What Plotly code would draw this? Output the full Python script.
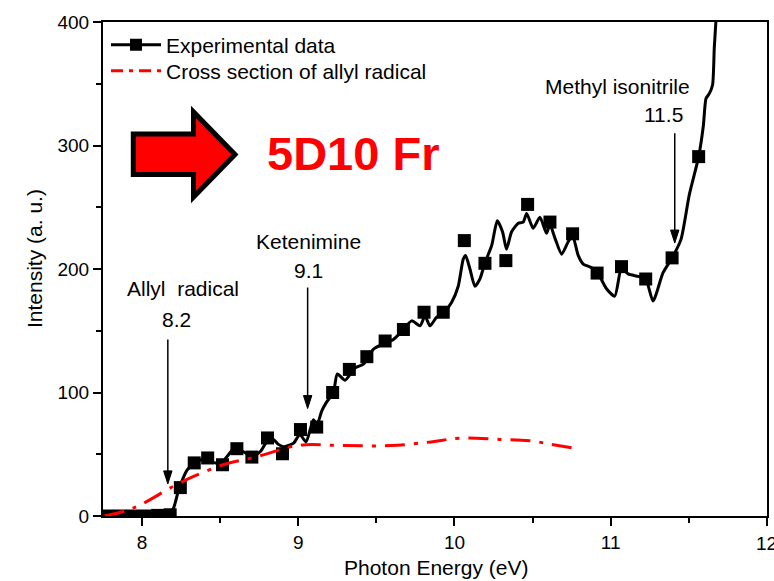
import plotly.graph_objects as go

# ---- data ----
exp_line_x = [7.75, 7.90, 8.05, 8.17, 8.20, 8.234, 8.287, 8.334, 8.394, 8.469, 8.50, 8.543, 8.586, 8.65,
              8.703, 8.756, 8.799, 8.84, 8.873, 8.905, 8.97, 9.01, 9.05, 9.097, 9.12, 9.15, 9.18, 9.225,
              9.25, 9.30, 9.364, 9.417, 9.48, 9.556, 9.609, 9.651, 9.726, 9.78, 9.811, 9.843, 9.886,
              9.928, 9.982, 10.024, 10.056, 10.071, 10.099, 10.131, 10.163, 10.195, 10.238, 10.274,
              10.308, 10.333, 10.365, 10.408, 10.44, 10.462, 10.504, 10.547, 10.589, 10.611, 10.643,
              10.686, 10.728, 10.756, 10.792, 10.824, 10.878, 10.92, 10.973, 11.026, 11.069, 11.111,
              11.175, 11.224, 11.271, 11.335, 11.393, 11.45, 11.503, 11.563, 11.593, 11.61, 11.631,
              11.652, 11.663, 11.674, 11.69]
exp_line_y = [1, 1.5, 2, 3, 6, 21, 37, 43, 46, 43, 42, 48, 54, 52,
              48, 52, 60, 62, 58, 56, 59, 66, 60, 78, 74, 85, 92, 100,
              115, 110, 120, 123, 135, 140, 143, 148, 158, 154, 162, 154, 161,
              164, 173, 186, 208, 211, 200, 186, 192, 205, 219, 239,
              230, 216, 230, 237, 238, 245, 233, 242, 229, 236, 225,
              212, 222, 227, 211, 204, 201, 196, 184, 178, 201, 196,
              194, 192, 174, 197, 209, 224, 260, 291, 316, 338, 342,
              349, 379, 402, 440]

exp_pts_x = [7.78, 7.86, 7.94, 8.02, 8.10, 8.18, 8.245, 8.334, 8.42, 8.515, 8.607, 8.703, 8.803, 8.899,
             9.014, 9.118, 9.22, 9.327, 9.439, 9.556, 9.673, 9.805, 9.928, 10.063, 10.195, 10.329,
             10.468, 10.611, 10.756, 10.913, 11.069, 11.224, 11.393, 11.563]
exp_pts_y = [0, 0, 0, 0, 0.5, 1, 23, 43, 47, 41.5, 54.5, 47.7, 63.2, 50.4,
             70, 72, 100, 118.7, 129, 141.7, 151, 165, 165, 223, 204.6, 206.8,
             252.3, 238, 228.5, 196.7, 201.9, 191.9, 209, 291]

cs_x = [7.76, 7.946, 8.2, 8.33, 8.52, 8.735, 8.95, 9.05, 9.30, 9.59, 9.85, 10.03, 10.29, 10.48, 10.62, 10.76]
cs_y = [0, 6.5, 24, 32, 41.5, 48, 56, 57.7, 57, 57, 60, 63, 62, 61, 58, 55]

x_ticks = [8, 9, 10, 11, 12]
x_minor = [8.5, 9.5, 10.5, 11.5]
y_ticks = [0, 100, 200, 300, 400]
y_minor = [50, 150, 250, 350]

# annotation arrows: label, value text, arrow x, arrow top y, arrow tip y
arrow_labels = ["Allyl  radical", "Ketenimine", "Methyl isonitrile"]
arrow_values = ["8.2", "9.1", "11.5"]
arrow_x = [8.165, 9.06, 11.41]
arrow_top = [143, 185, 310]
arrow_tip = [26, 87, 221]
label_x = [8.265, 9.065, 11.045]
label_y = [184, 222, 348]
value_x = [8.22, 9.065, 11.34]
value_y = [159, 199, 325]

# ---- geometry ----
W, H = 774, 581
L, R, T, B = 103, 7, 22, 65
PW, PH = W - L - R, H - T - B
XR = [7.75, 12.0005]
YR = [0, 400]


def px(xp):
    return (xp - L) / PW


def py(yp):
    return (H - B - yp) / PH


font = "Arial, Liberation Sans, sans-serif"

fig = go.Figure()

fig.add_trace(go.Scatter(x=exp_line_x, y=exp_line_y, mode="lines",
                         line=dict(color="black", width=3, shape="spline", smoothing=0.6),
                         showlegend=False, hoverinfo="skip"))
fig.add_trace(go.Scatter(x=exp_pts_x, y=exp_pts_y, mode="markers",
                         marker=dict(symbol="square", size=13, color="black"),
                         showlegend=False))
fig.add_trace(go.Scatter(x=cs_x, y=cs_y, mode="lines",
                         line=dict(color="red", width=3, dash="20px,9px,4px,9px", shape="spline"),
                         showlegend=False))
# legend entries
fig.add_trace(go.Scatter(x=[None], y=[None], mode="lines+markers", name="Experimental data",
                         line=dict(color="black", width=3),
                         marker=dict(symbol="square", size=12, color="black"), legend="legend"))
fig.add_trace(go.Scatter(x=[None], y=[None], mode="lines", name="Cross section of allyl radical",
                         line=dict(color="red", width=3, dash="12px,6px,4px,6px"), legend="legend2"))

shapes = []
annotations = []
dx_head = 4.2 * (XR[1] - XR[0]) / PW
dy_head = 13 * (YR[1] - YR[0]) / PH
for i in range(len(arrow_x)):
    shapes.append(dict(type="line", xref="x", yref="y", x0=arrow_x[i], x1=arrow_x[i],
                       y0=arrow_top[i], y1=arrow_tip[i] + dy_head * 0.5,
                       line=dict(color="black", width=1.5)))
    xa, yt = arrow_x[i], arrow_tip[i]
    shapes.append(dict(type="path", xref="x", yref="y",
                       path=f"M {xa - dx_head},{yt + dy_head} L {xa + dx_head},{yt + dy_head} L {xa},{yt} Z",
                       fillcolor="black", line=dict(color="black", width=1)))
    annotations.append(dict(x=label_x[i], y=label_y[i], xref="x", yref="y", text=arrow_labels[i],
                            xanchor="center", yanchor="middle",
                            showarrow=False, font=dict(family=font, size=21, color="black")))
    annotations.append(dict(x=value_x[i], y=value_y[i], xref="x", yref="y", text=arrow_values[i],
                            xanchor="center", yanchor="middle",
                            showarrow=False, font=dict(family=font, size=21, color="black")))

# big red block arrow (pixel outline -> paper coords)
arrow_px = [(133.3, 134), (193.5, 134), (193.5, 112), (235, 154.5), (193.5, 197), (193.5, 174.5), (133.3, 174.5)]
path = "M " + " L ".join(f"{px(a)},{py(b)}" for a, b in arrow_px) + " Z"
shapes.append(dict(type="path", xref="paper", yref="paper", path=path,
                   fillcolor="red", line=dict(color="black", width=5)))

annotations.append(dict(x=px(353), y=py(154), xref="paper", yref="paper", text="<b>5D10 Fr</b>",
                        xanchor="center", yanchor="middle",
                        showarrow=False, font=dict(family=font, size=47, color="red")))
# axis titles
annotations.append(dict(x=px(436), y=py(568), xref="paper", yref="paper", text="Photon Energy (eV)",
                        xanchor="center", yanchor="middle",
                        showarrow=False, font=dict(family=font, size=21, color="black")))
annotations.append(dict(x=px(34), y=py(259), xref="paper", yref="paper", text="Intensity (a. u.)",
                        xanchor="center", yanchor="middle",
                        textangle=-90, showarrow=False, font=dict(family=font, size=21, color="black")))
# last x tick label sits on the page edge (partly cut off in the reference)
annotations.append(dict(x=x_ticks[-1], y=py(543), xref="x", yref="paper", text=str(x_ticks[-1]),
                        xanchor="center", yanchor="middle",
                        showarrow=False, font=dict(family=font, size=19, color="black")))

axis_common = dict(showgrid=False, zeroline=False, showline=True, linecolor="black", linewidth=2,
                   mirror=True, ticks="outside", ticklen=8, tickwidth=1.5, tickcolor="black",
                   automargin=False,
                   tickfont=dict(family=font, size=19, color="black"))

legend_common = dict(xanchor="left", yanchor="middle", bgcolor="rgba(0,0,0,0)",
                     font=dict(family=font, size=21, color="black"), itemwidth=50)

fig.update_layout(
    width=W, height=H,
    autosize=False,
    margin=dict(l=L, r=R, t=T, b=B),
    paper_bgcolor="white", plot_bgcolor="white",
    xaxis=dict(range=XR, tickvals=x_ticks,
               ticktext=[str(v) for v in x_ticks[:-1]] + [""],
               minor=dict(tickvals=x_minor, ticks="outside", ticklen=5,
                          tickwidth=1.5, tickcolor="black"),
               **axis_common),
    yaxis=dict(range=YR, tickvals=y_ticks,
               minor=dict(tickvals=y_minor, ticks="outside", ticklen=5,
                          tickwidth=1.5, tickcolor="black"),
               **axis_common),
    legend=dict(x=px(106), y=py(45), **legend_common),
    legend2=dict(x=px(106), y=py(71), **legend_common),
    shapes=shapes,
    annotations=annotations,
    showlegend=True,
)

fig.write_html("out.html", config={"displayModeBar": False, "responsive": False},
               post_script="document.documentElement.style.overflow='hidden';"
                           "document.body.style.overflow='hidden';"
                           "document.body.style.margin='0';document.body.style.padding='0';")
